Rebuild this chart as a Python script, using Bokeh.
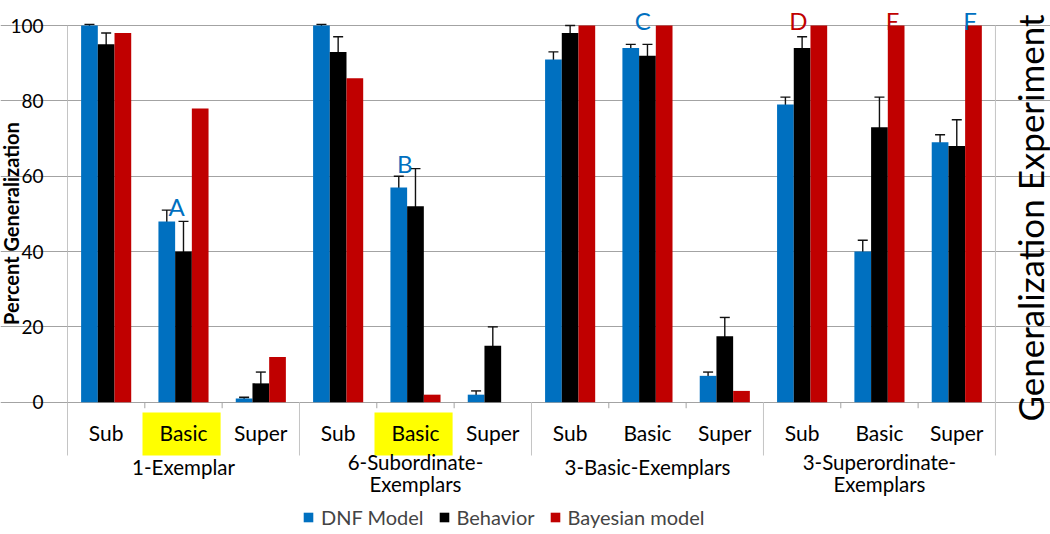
import math
import numpy as np
from bokeh.plotting import figure
from bokeh.models import (Range1d, FixedTicker, ColumnDataSource, Whisker, TeeHead,
                          Legend, LegendItem)
from bokeh.core.properties import value
from bokeh.embed import file_html
from bokeh.resources import INLINE

# ---------------- data ----------------
groups = ["1-Exemplar", "6-Subordinate-\nExemplars", "3-Basic-Exemplars",
          "3-Superordinate-\nExemplars"]
levels = ["Sub", "Basic", "Super"]
highlighted = [1, 4]          # category indices whose label is highlighted

dnf = [100, 48, 1, 100, 57, 2, 91, 94, 7, 79, 40, 69]
dnf_err = [0.3, 3, 0.3, 0.3, 3, 1, 2, 1, 1, 2, 3, 2]
behavior = [95, 40, 5, 93, 52, 15, 98, 92, 17.5, 94, 73, 68]
behavior_err = [3, 8, 3, 4, 10, 5, 2, 3, 5, 3, 8, 7]
bayes = [98, 78, 12, 86, 2, 0, 100, 100, 3, 100, 100, 100]

series_names = ["DNF Model", "Behavior", "Bayesian model"]

letters = ["A", "B", "C", "D", "E", "F"]
letter_cat = [1, 4, 7, 9, 10, 11]
letter_y = [52, 63.5, 101.3, 101.3, 101.3, 101.3]
letter_series = [0, 0, 0, 2, 2, 0]

y_ticks = [0, 20, 40, 60, 80, 100]
y_title = "Percent Generalization"
right_title = "Generalization Experiment"

# ---------------- style / layout ----------------
BLUE, BLACK, RED = "#0070C0", "#000000", "#C00000"
COLORS = [BLUE, BLACK, RED]
GRID = "#A3A3A3"
LIGHT = "#C4C4C4"
FONT = "Lato"
BAR_W = 0.216
letter_dx = [-0.09, -0.14, -0.06, -0.05, 0.17, 0.17]
SEP_BOTTOM = -14.15
TICK_BOTTOM = -1.6
CAT_LABEL_Y = -8.0
HL_TOP = -2.73

n_cat = len(groups) * len(levels)
cat_labels = [lv for _ in groups for lv in levels]
cx = np.arange(n_cat) + 0.5

p = figure(width=1050, height=534,
           x_range=Range1d(-0.8664, 12.712), y_range=Range1d(-35.12, 106.64),
           x_axis_type=None, output_backend="svg", toolbar_location=None,
           min_border_left=0, min_border_right=0, min_border_top=0,
           min_border_bottom=0)
p.outline_line_color = None
p.background_fill_color = "white"

# y axis drawn at x = 0 inside the frame
yax = p.yaxis[0]
yax.fixed_location = 0
yax.ticker = FixedTicker(ticks=y_ticks)
yax.bounds = (SEP_BOTTOM, 100)
yax.axis_line_color = LIGHT
yax.major_tick_line_color = GRID
yax.major_tick_out = 7
yax.major_tick_in = 0
yax.minor_tick_line_color = None
yax.major_label_text_font = FONT
yax.major_label_text_font_size = "19px"
yax.major_label_text_color = "black"
yax.major_label_standoff = 17
p.ygrid.ticker = FixedTicker(ticks=y_ticks)
p.ygrid.grid_line_color = GRID
p.ygrid.bounds = (0, n_cat)

# yellow highlights behind selected category labels
p.quad(left=[i - 0.03 for i in highlighted], right=[i + 0.98 for i in highlighted],
       top=HL_TOP, bottom=SEP_BOTTOM, fill_color="#FFFF00", line_color=None)

# separators between groups and small ticks between categories
sep_x = [len(levels) * g for g in range(1, len(groups) + 1)]
p.segment(x0=sep_x, y0=[0] * (len(sep_x) - 1) + [100], x1=sep_x,
          y1=SEP_BOTTOM, line_color=LIGHT, line_width=1)
tick_x = [i for i in range(1, n_cat) if i % len(levels) != 0]
p.segment(x0=tick_x, y0=0, x1=tick_x, y1=TICK_BOTTOM, line_color=GRID, line_width=1)

# bars
renderers = []
for k, (vals, col) in enumerate(zip([dnf, behavior, bayes], COLORS)):
    src = ColumnDataSource(dict(x=cx + (k - 1) * BAR_W, top=vals))
    r = p.vbar(x="x", top="top", width=BAR_W, source=src, fill_color=col,
               line_color=None)
    renderers.append(r)

# error bars
for k, (vals, errs) in enumerate([(dnf, dnf_err), (behavior, behavior_err)]):
    v = np.array(vals, dtype=float)
    e = np.array(errs, dtype=float)
    src = ColumnDataSource(dict(x=cx + (k - 1) * BAR_W, upper=v + e, lower=v - e))
    w = Whisker(source=src, base="x", upper="upper", lower="lower",
                line_color="#111111", line_width=1.4,
                upper_head=TeeHead(size=10, line_color="#111111", line_width=1.4),
                lower_head=TeeHead(size=10, line_color="#111111", line_width=1.4))
    p.add_layout(w)

# letters
p.text(x=[letter_cat[i] + 0.5 + letter_dx[i] for i in range(len(letters))],
       y=letter_y, text=letters,
       text_color=[COLORS[s] for s in letter_series],
       text_align="center", text_baseline="alphabetic",
       text_font=value(FONT), text_font_size="24px")

# category labels
p.text(x=cx, y=[CAT_LABEL_Y] * n_cat, text=cat_labels, text_align="center",
       text_baseline="middle", text_font=value(FONT), text_font_size="21px",
       text_color="black")

# group labels
gx = [len(levels) * g + len(levels) / 2 for g in range(len(groups))]
gy = [-14.0 if "\n" not in g else -12.6 for g in groups]
p.text(x=gx, y=gy, text=groups, text_align="center", text_baseline="top",
       text_font=value(FONT), text_font_size="20.5px", text_color="black",
       text_line_height=0.95)

# axis titles
p.text(x=[-0.7306], y=[47.44], text=[y_title], angle=math.pi / 2,
       text_align="center", text_baseline="middle", text_font=value(FONT),
       text_font_style="bold", text_font_size="20px", text_color="black")
p.text(x=[12.45], y=[48.9], text=[right_title], angle=math.pi / 2,
       text_align="center", text_baseline="middle", text_font=value(FONT),
       text_font_size="35px", text_color="black")

# legend
legend = Legend(items=[LegendItem(label=nm, renderers=[r])
                       for nm, r in zip(series_names, renderers)],
                orientation="horizontal", location=(302, 5),
                label_text_font=FONT, label_text_font_size="20px",
                glyph_width=12, glyph_height=12, spacing=14, label_standoff=7,
                padding=0, margin=0, border_line_color=None,
                background_fill_alpha=0, label_height=18)
p.add_layout(legend, "center")

open("out.html", "w").write(file_html(p, INLINE))
